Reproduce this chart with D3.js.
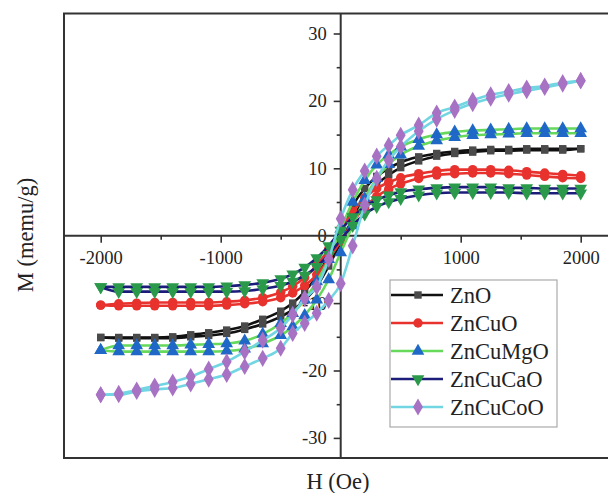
<!DOCTYPE html>
<html><head><meta charset="utf-8">
<script src="https://cdn.jsdelivr.net/npm/d3@7/dist/d3.min.js"></script>
<style>body{margin:0;background:#fff}svg{display:block}text{font-family:"Liberation Serif","Times New Roman",serif}</style>
</head><body>
<svg id="c" width="608" height="493"></svg>
<script>
const fieldH = [-2000,-1850,-1700,-1550,-1400,-1250,-1100,-950,-800,-650,-500,-400,-300,-200,-100,0,100,200,300,400,500,650,800,950,1100,1250,1400,1550,1700,1850,2000];
const xTicks = [-2000,-1000,1000,2000];
const xMinor = [-1500,-500,500,1500];
const yTicks = [-30,-20,-10,0,10,20,30];
const yMinor = [-25,-15,-5,5,15,25];
const seriesNames = ["ZnO","ZnCuO","ZnCuMgO","ZnCuCaO","ZnCuCoO"];
// descending branch (field swept +2000 -> -2000), values listed on fieldH order
const znoDesc   = [-15.1,-15.1,-15.1,-15.1,-15.0,-14.7,-14.4,-14.0,-13.4,-12.4,-11.2,-10.0,-8.3,-6.0,-3.0,1.0,4.5,7.0,8.8,10.0,10.9,11.7,12.2,12.5,12.7,12.8,12.8,12.9,12.9,12.9,12.9];
const znoAsc    = [-15.1,-15.2,-15.2,-15.2,-15.2,-15.0,-14.8,-14.5,-13.9,-13.1,-12.0,-11.0,-9.6,-7.5,-4.5,-1.0,2.5,5.5,7.6,9.0,10.1,11.1,11.8,12.2,12.4,12.6,12.6,12.7,12.7,12.7,12.9];
const cuDesc    = [-10.3,-10.1,-10.0,-9.9,-9.9,-9.9,-9.9,-9.8,-9.6,-9.2,-8.4,-7.5,-6.2,-4.4,-2.0,1.0,3.6,5.6,7.0,7.9,8.6,9.2,9.6,9.8,9.8,9.8,9.7,9.5,9.3,9.1,8.9];
const cuAsc     = [-10.3,-10.4,-10.4,-10.4,-10.4,-10.4,-10.4,-10.3,-10.1,-9.8,-9.2,-8.5,-7.4,-5.8,-3.5,-0.8,2.0,4.2,5.8,6.9,7.7,8.5,9.0,9.2,9.3,9.3,9.2,9.0,8.8,8.6,8.5];
const mgDesc    = [-17.0,-16.3,-16.3,-16.3,-16.3,-16.2,-16.1,-16.0,-15.6,-14.6,-13.0,-11.5,-9.5,-6.8,-3.5,1.0,5.0,8.2,10.5,12.0,13.2,14.3,15.0,15.4,15.6,15.7,15.8,15.9,15.9,15.9,15.9];
const mgAsc     = [-17.0,-17.2,-17.2,-17.2,-17.2,-17.2,-17.2,-17.1,-16.8,-16.0,-14.8,-13.5,-11.8,-9.5,-6.5,-2.5,1.5,5.5,8.5,10.6,12.0,13.3,14.1,14.6,14.9,15.0,15.1,15.2,15.2,15.2,15.2];
const caDesc    = [-7.6,-7.6,-7.6,-7.6,-7.6,-7.6,-7.6,-7.5,-7.3,-7.0,-6.4,-5.7,-4.7,-3.3,-1.5,0.8,2.8,4.3,5.3,6.0,6.5,6.9,7.1,7.2,7.2,7.2,7.1,7.1,7.0,7.0,7.0];
const caAsc     = [-7.6,-8.3,-8.3,-8.3,-8.3,-8.3,-8.3,-8.3,-8.2,-7.9,-7.4,-6.8,-5.9,-4.6,-2.8,-0.6,1.5,3.2,4.3,5.0,5.5,6.0,6.3,6.4,6.4,6.4,6.4,6.3,6.3,6.3,6.3];
const coDesc    = [-23.6,-23.4,-22.9,-22.3,-21.7,-20.9,-19.8,-18.7,-17.2,-15.5,-13.7,-11.7,-9.3,-7.6,-3.5,2.5,6.8,9.6,11.8,13.4,14.9,16.4,18.2,19.1,20.1,20.9,21.4,21.9,22.2,22.7,23.0];
const coAsc     = [-23.6,-23.6,-23.1,-22.8,-22.6,-22.0,-21.3,-20.6,-19.4,-18.2,-16.7,-14.5,-13.0,-11.5,-9.6,-7.1,-1.5,4.5,8.5,11.2,13.2,15.5,17.3,18.6,19.6,20.4,21.0,21.5,22.0,22.5,23.0];

const lineColors   = ["#111111","#e8322e","#66d85a","#1c1c7a","#72d6e2"];
const markerColors = ["#4a4a4a","#e8322e","#1f68c8","#2a9a4a","#a872c4"];
const markerShapes = [d3.symbolSquare,d3.symbolCircle,d3.symbolTriangle,d3.symbolTriangle,d3.symbolDiamond];
const markerSizes  = [55,70,70,70,85];
const markerRot    = [0,0,0,180,0];
const branches = [[znoDesc,znoAsc],[cuDesc,cuAsc],[mgDesc,mgAsc],[caDesc,caAsc],[coDesc,coAsc]];

const svg = d3.select("#c");
const L=64, T=13.5, R=620, B=458;
const x = d3.scaleLinear().domain([-2000,2000]).range([100.7,580.7]);
const y = d3.scaleLinear().domain([-30,30]).range([437.9,33.5]);
const x0 = x(0), y0 = y(0);
const fmt = d => String(d);

// frame
svg.append("rect").attr("x",L).attr("y",T).attr("width",R-L).attr("height",B-T)
  .attr("fill","none").attr("stroke","#333").attr("stroke-width",2);

// axes through origin
const fs = 18.5;
const yAx = svg.append("g").attr("transform",`translate(${x0},0)`)
  .call(d3.axisLeft(y).tickValues(yTicks).tickSize(7).tickPadding(7).tickFormat(fmt));
yAx.select(".domain").remove();
const yMin = svg.append("g").attr("transform",`translate(${x0},0)`)
  .call(d3.axisLeft(y).tickValues(yMinor).tickSize(4).tickFormat(""));
yMin.select(".domain").remove();
const xAx = svg.append("g").attr("transform",`translate(0,${y0})`)
  .call(d3.axisBottom(x).tickValues(xTicks).tickSize(7).tickPadding(8).tickFormat(fmt));
xAx.select(".domain").remove();
const xMin = svg.append("g").attr("transform",`translate(0,${y0})`)
  .call(d3.axisBottom(x).tickValues(xMinor).tickSize(4).tickFormat(""));
xMin.select(".domain").remove();
svg.selectAll("g").attr("font-family","Liberation Serif");
svg.selectAll(".tick line").attr("stroke","#333").attr("stroke-width",1.6);
svg.selectAll(".tick text").attr("font-size",fs).attr("fill","#222");
svg.append("line").attr("x1",x0).attr("x2",x0).attr("y1",T).attr("y2",B).attr("stroke","#333").attr("stroke-width",2);
svg.append("line").attr("x1",L).attr("x2",R).attr("y1",y0).attr("y2",y0).attr("stroke","#333").attr("stroke-width",2);

// curves
const lineGen = d3.line().x((d,i)=>x(fieldH[i])).y(d=>y(d)).curve(d3.curveMonotoneX);
branches.forEach((br,s)=>{
  const g = svg.append("g");
  br.forEach(vals=>{
    g.append("path").attr("d",lineGen(vals)).attr("fill","none")
      .attr("stroke",lineColors[s]).attr("stroke-width",2.6);
  });
  br.forEach(vals=>{
    g.selectAll(null).data(vals).enter().append("path")
      .attr("d",d3.symbol().type(markerShapes[s]).size(markerSizes[s]))
      .attr("transform",(d,i)=>`translate(${x(fieldH[i])},${y(d)}) rotate(${markerRot[s]})`)
      .attr("fill",markerColors[s]);
  });
});

// legend
const lg = svg.append("g");
lg.append("rect").attr("x",390).attr("y",280).attr("width",167).attr("height",147)
  .attr("fill","#fff").attr("stroke","#aaa").attr("stroke-width",1.2);
seriesNames.forEach((n,s)=>{
  const cy = 295 + s*28;
  lg.append("line").attr("x1",391).attr("x2",443).attr("y1",cy).attr("y2",cy)
    .attr("stroke",lineColors[s]).attr("stroke-width",2.6);
  lg.append("path").attr("d",d3.symbol().type(markerShapes[s]).size(markerSizes[s]))
    .attr("transform",`translate(418,${cy}) rotate(${markerRot[s]})`).attr("fill",markerColors[s]);
  lg.append("text").attr("x",450).attr("y",cy).attr("dy","0.35em").attr("font-size",22.5)
    .attr("fill","#222").text(n);
});

// titles
svg.append("text").attr("x",338).attr("y",481).attr("dy","0.35em").attr("text-anchor","middle")
  .attr("font-size",22.5).attr("fill","#222").text("H (Oe)");
svg.append("text").attr("transform","translate(25,235) rotate(-90)").attr("dy","0.35em")
  .attr("text-anchor","middle").attr("font-size",22.5).attr("fill","#222").text("M (memu/g)");
</script>
</body></html>
